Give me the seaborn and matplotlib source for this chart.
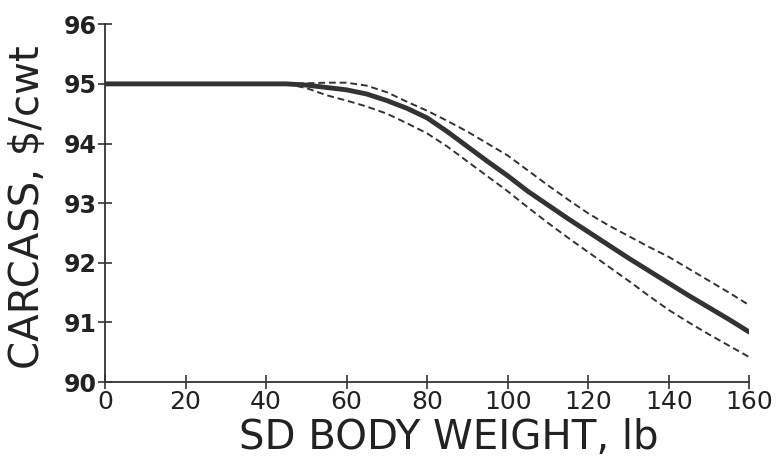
import numpy as np
import pandas as pd
import matplotlib
matplotlib.use("Agg")
import matplotlib.pyplot as plt
import seaborn as sns

sd_main = [0, 10, 20, 30, 40, 45, 50, 55, 60, 65, 70, 75, 80, 85, 90, 95, 100, 105, 110, 115,
           120, 125, 130, 135, 140, 145, 150, 155, 160]
price_main = [95.0, 95.0, 95.0, 95.0, 95.0, 95.0, 94.98, 94.94, 94.9, 94.83, 94.72, 94.59, 94.43,
              94.2, 93.95, 93.7, 93.46, 93.2, 92.97, 92.74, 92.52, 92.3, 92.08, 91.87, 91.66,
              91.45, 91.25, 91.05, 90.84]

sd_band = [45, 50, 55, 60, 65, 70, 75, 80, 85, 90, 95, 100, 105, 110, 115, 120, 125, 130, 135,
           140, 145, 150, 155, 160]
price_upper = [95.0, 95.01, 95.02, 95.02, 94.97, 94.86, 94.7, 94.55, 94.38, 94.2, 94.0, 93.8,
               93.55, 93.3, 93.06, 92.83, 92.63, 92.45, 92.27, 92.1, 91.9, 91.7, 91.5, 91.29]
price_lower = [95.0, 94.93, 94.81, 94.72, 94.62, 94.5, 94.34, 94.17, 93.95, 93.7, 93.45, 93.2,
               92.93, 92.67, 92.42, 92.18, 91.94, 91.7, 91.45, 91.21, 91.0, 90.8, 90.61, 90.42]

x_ticks = [0, 20, 40, 60, 80, 100, 120, 140, 160]
y_ticks = [90, 91, 92, 93, 94, 95, 96]

sns.set_style("white")
plt.rcParams['font.family'] = ['DejaVu Sans']

df_main = pd.DataFrame({"sd": sd_main, "price": price_main})
df_band = pd.DataFrame({"sd": sd_band * 2, "price": price_upper + price_lower,
                        "bound": ["upper"] * len(sd_band) + ["lower"] * len(sd_band)})

fig = plt.figure(figsize=(7.78, 4.66), dpi=100)
ax = fig.add_axes([0.135, 0.180, 0.828, 0.768])

col = "#333333"
sns.lineplot(data=df_main, x="sd", y="price", ax=ax, color=col, linewidth=3.5, legend=False)
sns.lineplot(data=df_band, x="sd", y="price", units="bound", estimator=None, ax=ax,
             color=col, linewidth=1.4, linestyle=(0, (3.5, 2)), legend=False)

ax.set_xlim(0, 160)
ax.set_ylim(90, 96)
ax.set_xticks(x_ticks)
ax.set_yticks(y_ticks)
ax.set_xticklabels([str(t) for t in x_ticks], fontsize=18, color="#222222")
ax.set_yticklabels([str(t) for t in y_ticks], fontsize=17, fontweight="bold", color="#222222")
ax.tick_params(axis="both", direction="inout", length=10, width=1.2, color=col, pad=1,
               bottom=True, left=True)
for s in ["top", "right"]:
    ax.spines[s].set_visible(False)
for s in ["left", "bottom"]:
    ax.spines[s].set_color(col)
    ax.spines[s].set_linewidth(1.3)

ax.set_xlabel("SD BODY WEIGHT, lb", fontsize=29, color="#222222")
ax.xaxis.set_label_coords(0.533, -0.10)
ax.set_ylabel("CARCASS, $/cwt", fontsize=29, color="#222222")
ax.yaxis.set_label_coords(-0.088, 0.49)

fig.savefig("out.png", dpi=100)
